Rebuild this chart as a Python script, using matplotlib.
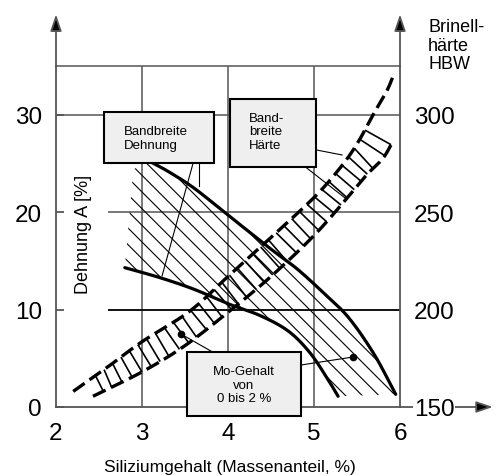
import numpy as np
import matplotlib
matplotlib.use("Agg")
import matplotlib.pyplot as plt
from matplotlib.patches import Polygon, Rectangle

plt.rcParams['font.family'] = ['Liberation Sans', 'DejaVu Sans']
plt.rcParams['hatch.linewidth'] = 0.8
plt.rcParams['hatch.color'] = 'black'

# ---------------- data ----------------
x_ticks = [2, 3, 4, 5, 6]
a_ticks = [0, 10, 20, 30]
hb_ticks = [150, 200, 250, 300]

# Elongation band (Dehnung A in %)
el_upper_x = [3.09, 3.3, 3.6, 4.0, 4.5, 4.8, 5.1, 5.4, 5.7, 5.95]
el_upper_a = [25.2, 24.2, 22.5, 19.7, 16.2, 14.2, 11.8, 9.2, 5.4, 1.3]
el_lower_x = [2.8, 3.2, 3.6, 4.0, 4.37, 4.7, 4.95, 5.15, 5.28]
el_lower_a = [14.3, 13.3, 12.1, 10.6, 9.4, 7.8, 5.6, 3.0, 1.1]
el_band_corner = (2.9, 24.4)

# Hardness band (Brinell HBW)
hb_upper_x = [2.2, 2.6, 3.0, 3.55, 4.0, 4.5, 5.0, 5.3, 5.5, 5.7, 5.85, 5.93]
hb_upper_v = [158, 170.5, 183.5, 199, 217, 237, 257.5, 272.5, 285, 301, 312.5, 321]
hb_lower_x = [2.43, 3.0, 3.5, 4.04, 4.5, 5.0, 5.4, 5.62, 5.8, 5.92]
hb_lower_v = [155.5, 168, 181.5, 200, 217, 238, 258, 269.5, 277.5, 286.5]

# Mo-content marker points (x, A)
mo_dot_x = [3.453, 5.453]
mo_dot_a = [7.49, 5.13]


def smooth(x, y, n=24):
    pts = np.column_stack([x, y]).astype(float)
    P = np.vstack([2 * pts[0] - pts[1], pts, 2 * pts[-1] - pts[-2]])
    out = []
    t = np.linspace(0, 1, n, endpoint=False)[:, None]
    for i in range(1, len(P) - 2):
        p0, p1, p2, p3 = P[i - 1], P[i], P[i + 1], P[i + 2]
        out.append(0.5 * (2 * p1 + (-p0 + p2) * t + (2 * p0 - 5 * p1 + 4 * p2 - p3) * t ** 2
                          + (-p0 + 3 * p1 - 3 * p2 + p3) * t ** 3))
    out.append(pts[-1:])
    return np.vstack(out)


W, H = 496, 477
fig = plt.figure(figsize=(W / 100, H / 100), dpi=100)
ax = fig.add_axes([56 / W, (H - 408) / H, 344 / W, 341 / H])
ax.set_xlim(2, 6)
ax.set_ylim(0, 35)
ax.patch.set_visible(False)
ax2 = ax.twinx()
ax2.set_ylim(150, 325)
for s in ax2.spines.values():
    s.set_visible(False)

grey = '#555555'
for side in ['left', 'bottom', 'right']:
    ax.spines[side].set_color(grey)
    ax.spines[side].set_linewidth(1.3)
ax.spines['top'].set_visible(False)

# ticks
ax.set_xticks(x_ticks)
ax.set_xticklabels([str(v) for v in x_ticks])
ax.tick_params(axis='x', length=0, pad=10.5, labelsize=17.5)
ax.set_yticks(a_ticks)
ax.set_yticklabels([str(v) for v in a_ticks])
ax.tick_params(axis='y', direction='in', length=6, width=1.3, color=grey, pad=10, labelsize=17.5)
ax2.set_yticks(hb_ticks)
ax2.set_yticklabels([str(v) for v in hb_ticks])
ax2.tick_params(axis='y', length=0, pad=10, labelsize=17.5)
for lab in ax2.get_yticklabels():
    if lab.get_text() == '150':
        lab.set_bbox(dict(facecolor='white', edgecolor='none', pad=0.5))

# grid
for xv in x_ticks[1:-1]:
    ax.axvline(xv, color=grey, lw=1.1, zorder=1)
ax.axhline(30, color=grey, lw=1.1, zorder=1)
ax.axhline(35, color=grey, lw=1.1, zorder=1, clip_on=False)
ax.hlines([20], 2.6, 6, color=grey, lw=1.1, zorder=1)
ax.hlines([10], 2.6, 6, color='#111111', lw=1.4, zorder=1)

# arrows
arrow_kw = dict(arrowstyle='-|>,head_length=0.5,head_width=0.17',
                lw=1.3, mutation_scale=20, shrinkA=0, shrinkB=0, ec=grey, fc='black')
ax.annotate('', xy=(2, 40.3), xytext=(2, 35), arrowprops=arrow_kw, annotation_clip=False)
ax.annotate('', xy=(6, 40.3), xytext=(6, 35), arrowprops=arrow_kw, annotation_clip=False)
ax.annotate('', xy=(7.08, 0), xytext=(6, 0), arrowprops=arrow_kw, annotation_clip=False)

# elongation band
up = smooth(el_upper_x, el_upper_a)
lo = smooth(el_lower_x, el_lower_a)
poly = np.vstack([lo[::-1], [el_band_corner], up])
ax.add_patch(Polygon(poly, closed=True, facecolor='none', edgecolor='black', lw=0,
                     hatch='\\\\', zorder=2))
ax.plot(up[:, 0], up[:, 1], color='black', lw=2.3, solid_capstyle='round', zorder=4)
ax.plot(lo[:, 0], lo[:, 1], color='black', lw=2.3, solid_capstyle='round', zorder=4)

# hardness band (drawn through the HBW scale)
hu = smooth(hb_upper_x, hb_upper_v)
hl = smooth(hb_lower_x, hb_lower_v)
ax.plot(hu[:, 0], hu[:, 1], transform=ax2.transData, color='black', lw=2.4,
        dashes=(4.2, 1.8), zorder=4)
ax.plot(hl[:, 0], hl[:, 1], transform=ax2.transData, color='black', lw=2.4,
        dashes=(4.2, 1.8), zorder=4)

# ladder rungs between the two hardness boundaries (computed in display space)
fig.canvas.draw()
tr = ax2.transData
du = tr.transform(hu)
dl = tr.transform(hl)
seg = np.hypot(*np.diff(du, axis=0).T)
s = np.concatenate([[0], np.cumsum(seg)])
spacing = 10.5
inv = ax.transData.inverted()
for sv in np.arange(spacing * 0.6, s[-1], spacing):
    p = np.array([np.interp(sv, s, du[:, 0]), np.interp(sv, s, du[:, 1])])
    d = np.hypot(dl[:, 0] - p[0], dl[:, 1] - p[1])
    k = np.argmin(d)
    if d[k] > 45 or k == len(dl) - 1 or k == 0:
        continue
    q = dl[k]
    pq = inv.transform(np.array([p, q]))
    ax.plot(pq[:, 0], pq[:, 1], color='black', lw=1.2, zorder=3, solid_capstyle='butt')

# label boxes
box_kw = dict(facecolor='#efefef', edgecolor='black', lw=1.5, zorder=6, clip_on=False)
ax.add_patch(Rectangle((2.558, 25.05), 3.837 - 2.558, 30.29 - 25.05, **box_kw))
ax.text(2.79, 27.6, 'Bandbreite\nDehnung', fontsize=9.5, ha='left', va='center', zorder=7,
        linespacing=1.15)
ax.add_patch(Rectangle((4.023, 24.64), 5.023 - 4.023, 31.62 - 24.64, **box_kw))
ax.text(4.244, 28.3, 'Band-\nbreite\nHärte', fontsize=9.5, ha='left', va='center', zorder=7,
        linespacing=1.15)
ax.add_patch(Rectangle((3.523, -0.92), 4.849 - 3.523, 5.65 + 0.92, **box_kw))
ax.text(4.186, 2.3, 'Mo-Gehalt\nvon\n0 bis 2 %', fontsize=9.5, ha='center', va='center',
        multialignment='center', zorder=7, linespacing=1.15)

# pointer lines
pl = dict(color='black', lw=0.8, zorder=5)
ax.plot([3.593, 3.233], [25.0, 13.45], **pl)
ax.plot([3.663, 3.663], [25.0, 22.7], **pl)
ax.plot([5.023, 5.326], [26.39, 25.87], **pl)
ax.plot([4.9, 5.36], [24.64, 21.46], **pl)
ax.plot([4.849, mo_dot_x[1]], [4.31, mo_dot_a[1]], **pl)
ax.plot([mo_dot_x[0], 3.82], [mo_dot_a[0], 5.65], **pl)
ax.plot(mo_dot_x, mo_dot_a, 'o', color='black', ms=4.5, zorder=6, ls='none')

# axis titles
ax.text(2.314, 17.8, 'Dehnung A [%]', rotation=90, fontsize=13, ha='center', va='center')
ax.text(6.326, 39.9, 'Brinell-\nhärte\nHBW', fontsize=13, ha='left', va='top', linespacing=1.12)
ax.text(4.02, -6.15, 'Siliziumgehalt (Massenanteil, %)', fontsize=12.5, ha='center', va='center')

fig.savefig('out.png', dpi=100)
